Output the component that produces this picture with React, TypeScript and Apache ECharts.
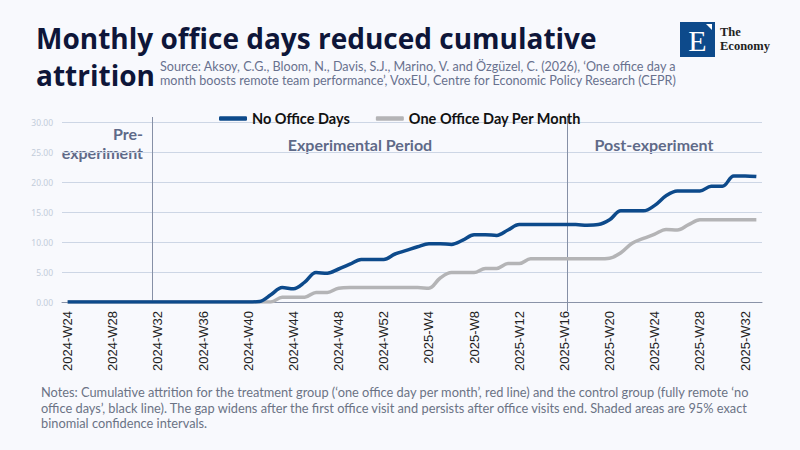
import React, { useEffect, useRef } from "react";
import * as echarts from "echarts";

const weeks: string[] = [
  "2024-W24", "2024-W25", "2024-W26", "2024-W27", "2024-W28", "2024-W29", "2024-W30", "2024-W31",
  "2024-W32", "2024-W33", "2024-W34", "2024-W35", "2024-W36", "2024-W37", "2024-W38", "2024-W39",
  "2024-W40", "2024-W41", "2024-W42", "2024-W43", "2024-W44", "2024-W45", "2024-W46", "2024-W47",
  "2024-W48", "2024-W49", "2024-W50", "2024-W51", "2024-W52",
  "2025-W1", "2025-W2", "2025-W3", "2025-W4", "2025-W5", "2025-W6", "2025-W7", "2025-W8",
  "2025-W9", "2025-W10", "2025-W11", "2025-W12", "2025-W13", "2025-W14", "2025-W15", "2025-W16",
  "2025-W17", "2025-W18", "2025-W19", "2025-W20", "2025-W21", "2025-W22", "2025-W23", "2025-W24",
  "2025-W25", "2025-W26", "2025-W27", "2025-W28", "2025-W29", "2025-W30", "2025-W31", "2025-W32",
  "2025-W33",
];

const noOfficeDays: number[] = [
  0, 0, 0, 0, 0, 0, 0, 0, 0, 0, 0, 0, 0, 0, 0, 0, 0,
  0.1, 1.2, 2.4, 2.2, 3.3, 4.9, 4.8, 5.5, 6.3, 7.1, 7.1, 7.1,
  8.0, 8.6, 9.2, 9.7, 9.7, 9.6, 10.3, 11.2, 11.2, 11.1, 12.0, 12.9,
  12.9, 12.9, 12.9, 12.9, 12.9,
  12.8, 12.9, 13.7, 15.2, 15.2, 15.2, 16.1, 17.7, 18.5, 18.5, 18.5,
  19.3, 19.3, 21.0, 21.0, 20.9,
];

const oneOfficeDay: number[] = [
  0, 0, 0, 0, 0, 0, 0, 0, 0, 0, 0, 0, 0, 0, 0, 0, 0, 0, 0,
  0.8, 0.8, 0.8, 1.6, 1.6, 2.3,
  2.4, 2.4, 2.4, 2.4, 2.4, 2.4, 2.4,
  2.3, 4.0, 4.9, 4.9, 4.9, 5.6, 5.6, 6.4, 6.4,
  7.2, 7.2, 7.2, 7.2, 7.2, 7.2, 7.2,
  7.3, 8.2, 9.8, 10.6, 11.3, 12.1, 12.0, 12.9,
  13.7, 13.7, 13.7, 13.7, 13.7, 13.7,
];

const seriesNames = ["No Office Days", "One Office Day Per Month"];
// period boundaries, in weeks from the first week shown
const periodBreaks: number[] = [8, 44.7];

const titleLines = ["Monthly office days reduced cumulative", "attrition"];
const sourceLines = [
  "Source: Aksoy, C.G., Bloom, N., Davis, S.J., Marino, V. and Özgüzel, C. (2026), ‘One office day a",
  "month boosts remote team performance’, VoxEU, Centre for Economic Policy Research (CEPR)",
];
const noteLines = [
  "Notes: Cumulative attrition for the treatment group (‘one office day per month’, red line) and the control group (fully remote ‘no",
  "office days’, black line). The gap widens after the first office visit and persists after office visits end. Shaded areas are 95% exact",
  "binomial confidence intervals.",
];

const BG = "#f8f9fd";
const BLUE = "#0d4a8b";
const GRAY = "#b4b4b6";
const SLATE = "#5f6a88";

export default function App() {
  const ref = useRef<HTMLDivElement>(null);

  useEffect(() => {
    document.body.style.margin = "0";
    document.body.style.background = BG;
    if (!ref.current) return;
    const chart = echarts.init(ref.current, undefined, { renderer: "svg" });

    const baseGraphics: any[] = [
      {
        type: "text",
        x: 36,
        y: 38,
        style: { text: titleLines[0], font: "bold 28px 'Open Sans'", fill: "#0e1639", verticalAlign: "middle" },
      },
      {
        type: "text",
        x: 36,
        y: 75,
        style: { text: titleLines[1], font: "bold 28px 'Open Sans'", fill: "#0e1639", verticalAlign: "middle" },
      },
      {
        type: "text",
        x: 160,
        y: 66,
        style: { text: sourceLines[0], font: "12.6px Lato", fill: "#68718e", verticalAlign: "middle" },
      },
      {
        type: "text",
        x: 160,
        y: 80.5,
        style: { text: sourceLines[1], font: "12.6px Lato", fill: "#68718e", verticalAlign: "middle" },
      },
      // logo
      { type: "rect", shape: { x: 680, y: 22, width: 35, height: 35 }, style: { fill: BLUE } },
      {
        type: "text",
        x: 697.5,
        y: 40,
        style: { text: "E", font: "30px 'Liberation Serif'", fill: "#ffffff", align: "center", verticalAlign: "middle" },
      },
      { type: "polygon", shape: { points: [[706, 24], [712, 24], [712, 30]] }, style: { fill: "#ffffff" } },
      {
        type: "text",
        x: 720,
        y: 31.5,
        style: { text: "The", font: "bold 12.5px 'Liberation Serif'", fill: "#222", verticalAlign: "middle" },
      },
      {
        type: "text",
        x: 720,
        y: 45.5,
        style: { text: "Economy", font: "bold 12.5px 'Liberation Serif'", fill: "#222", verticalAlign: "middle" },
      },
      // period labels
      {
        type: "text",
        x: 143,
        y: 133,
        style: { text: "Pre-", font: "bold 16px Lato", fill: SLATE, align: "right", verticalAlign: "middle" },
      },
      {
        type: "text",
        x: 143,
        y: 152,
        style: { text: "experiment", font: "bold 16px Lato", fill: SLATE, align: "right", verticalAlign: "middle" },
      },
      {
        type: "text",
        x: 360,
        y: 144,
        style: { text: "Experimental Period", font: "bold 16px Lato", fill: SLATE, align: "center", verticalAlign: "middle" },
      },
      {
        type: "text",
        x: 654,
        y: 144,
        style: { text: "Post-experiment", font: "bold 16px Lato", fill: SLATE, align: "center", verticalAlign: "middle" },
      },
      // notes
      ...noteLines.map((t, i) => ({
        type: "text",
        x: 41,
        y: 392 + i * 15.7,
        style: { text: t, font: "12.8px Lato", fill: "#6b7385", verticalAlign: "middle" },
      })),
    ];

    const option: any = {
      animation: false,
      backgroundColor: BG,
      grid: { left: 62, right: 38, top: 122, bottom: 148, containLabel: false },
      legend: {
        top: 106,
        left: "center",
        icon: "roundRect",
        itemWidth: 28,
        itemHeight: 4.5,
        itemGap: 26,
        data: seriesNames,
        textStyle: { fontFamily: "Lato", fontWeight: "bold", fontSize: 14.5, color: "#111" },
      },
      xAxis: [
        {
          type: "category",
          data: weeks,
          boundaryGap: true,
          axisLine: { lineStyle: { color: "#8a93a8", width: 1 } },
          axisTick: { show: false },
          axisLabel: {
            interval: 3,
            rotate: 90,
            margin: 9,
            fontFamily: "Liberation Sans",
            fontSize: 13,
            color: "#222",
          },
          splitLine: { show: false },
        },
        { type: "value", min: 0, max: weeks.length, show: false },
      ],
      yAxis: {
        type: "value",
        min: 0,
        max: 30,
        interval: 5,
        axisLine: { show: false },
        axisTick: { show: false },
        axisLabel: {
          formatter: (v: number) => v.toFixed(2),
          fontFamily: "Noto Sans",
          fontSize: 8.5,
          color: "#c3ccda",
          margin: 9,
        },
        splitLine: { lineStyle: { color: "#cdd6e5", width: 1 } },
      },
      series: [
        {
          name: seriesNames[0],
          type: "line",
          data: noOfficeDays,
          smooth: 0.35,
          showSymbol: false,
          symbol: "none",
          lineStyle: { color: BLUE, width: 3.5 },
          itemStyle: { color: BLUE },
          z: 3,
        },
        {
          name: seriesNames[1],
          type: "line",
          data: oneOfficeDay,
          smooth: 0.35,
          showSymbol: false,
          symbol: "none",
          lineStyle: { color: GRAY, width: 3.5 },
          itemStyle: { color: GRAY },
          z: 2,
        },
        {
          name: "breaks",
          type: "line",
          xAxisIndex: 1,
          data: [],
          silent: true,
        },
      ],
      graphic: baseGraphics,
    };

    chart.setOption(option);

    const yTop = chart.convertToPixel({ yAxisIndex: 0 }, 30) as number;
    const yBot = chart.convertToPixel({ yAxisIndex: 0 }, 0) as number;
    const breakLines = periodBreaks.map((b, i) => {
      const x = Math.round(chart.convertToPixel({ xAxisIndex: 1 }, b) as number) + 0.5;
      return {
        type: "line",
        silent: true,
        z: 1,
        shape: { x1: x, y1: yTop - 5, x2: x, y2: yBot + (i === 1 ? 9 : 0) },
        style: { stroke: "#8690a6", lineWidth: 1 },
      };
    });
    chart.setOption({ graphic: [...baseGraphics, ...breakLines] });

    return () => chart.dispose();
  }, []);

  return (
    <div
      ref={ref}
      style={{ position: "fixed", left: 0, top: 0, width: 800, height: 450, background: BG }}
    />
  );
}
